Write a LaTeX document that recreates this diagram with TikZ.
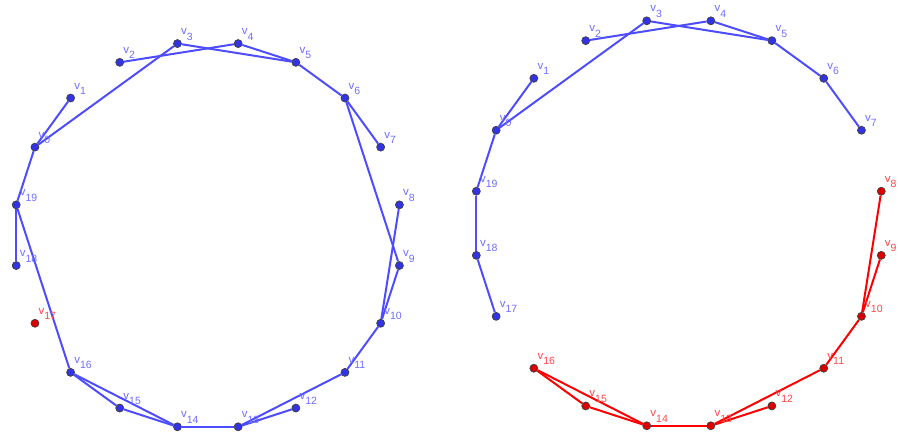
\documentclass[tikz,border=0pt]{standalone}
\usepackage{fontspec}
\setmainfont{Liberation Sans}
\usetikzlibrary{calc, backgrounds}
\definecolor{ptblue}{RGB}{51,51,230}
\definecolor{lnblue}{RGB}{77,77,255}
\definecolor{lbblue}{RGB}{110,110,255}
\definecolor{ptred}{RGB}{220,0,0}
\definecolor{lnred}{RGB}{255,0,0}
\definecolor{lbred}{RGB}{255,70,70}
\tikzstyle{vtx} = [circle, inner sep=0pt, minimum size=8pt, draw=black!75, line width=0.7pt]
\tikzstyle{edge} = [line width=2pt]
\tikzstyle{lbl} = [inner sep=0pt, anchor=base west, font=\fontsize{11.5}{13}\selectfont]
\newcommand{\vname}[1]{v\raisebox{-5.5pt}{\fontsize{10.5}{11}\selectfont #1}}

\begin{document}
\begin{tikzpicture}[x=1pt, y=-1pt]
    \useasboundingbox (0,0) rectangle (898,435);

    % Left graph
    \foreach \i/\col in {0/blue,1/blue,2/blue,3/blue,4/blue,5/blue,6/blue,7/blue,8/blue,9/blue,10/blue,
                         11/blue,12/blue,13/blue,14/blue,15/blue,16/blue,17/red,18/blue,19/blue} {
        \pgfmathsetmacro{\ang}{153-18*\i}
        \node (a\i) [vtx, fill=pt\col] at ({207.8+194*cos(\ang)}, {235.2-194*sin(\ang)}) {};
        \path (a\i) ++(3.5,-9) node [lbl, text=lb\col] {\vname{\i}};
    }

    % Right graph
    \foreach \i/\col in {0/blue,1/blue,2/blue,3/blue,4/blue,5/blue,6/blue,7/blue,8/red,9/red,10/red,
                         11/red,12/red,13/red,14/red,15/red,16/red,17/blue,18/blue,19/blue} {
        \pgfmathsetmacro{\ang}{153-18*\i}
        \node (b\i) [vtx, fill=pt\col] at ({678.8+205*cos(\ang)}, {223.3-205*sin(\ang)}) {};
        \path (b\i) ++(3.5,-9) node [lbl, text=lb\col] {\vname{\i}};
    }

    % Edges
    \begin{scope}[on background layer]
        \foreach \p/\q in {0/1,0/3,0/19,2/4,3/5,4/5,5/6,6/7,6/9,8/10,9/10,10/11,
                           11/13,12/13,13/14,14/15,14/16,15/16,16/19,18/19}
            \draw [edge, lnblue] (a\p) -- (a\q);
        \foreach \p/\q in {0/1,0/3,0/19,2/4,3/5,4/5,5/6,6/7,18/19,17/18}
            \draw [edge, lnblue] (b\p) -- (b\q);
        \foreach \p/\q in {8/10,9/10,10/11,11/13,12/13,13/14,14/15,14/16,15/16}
            \draw [edge, lnred] (b\p) -- (b\q);
    \end{scope}
\end{tikzpicture}
\end{document}
